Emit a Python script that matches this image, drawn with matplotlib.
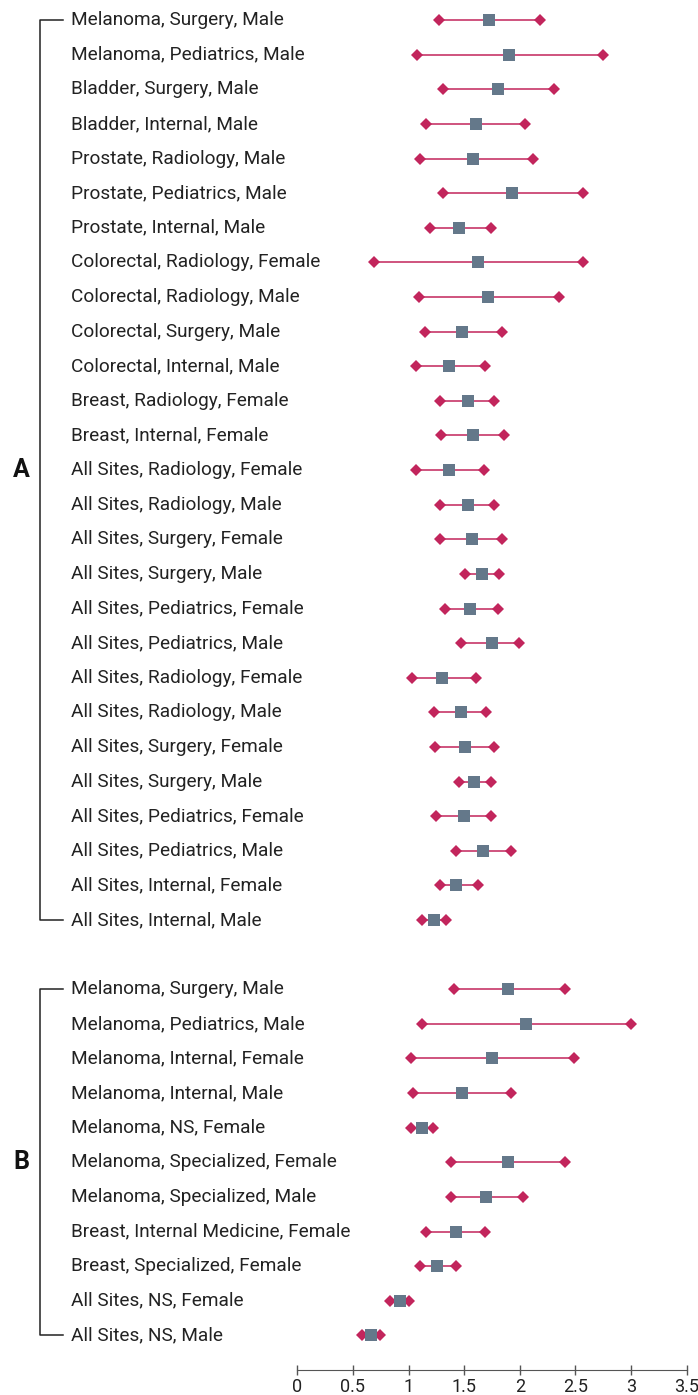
import numpy as np
import matplotlib.pyplot as plt
from matplotlib.transforms import blended_transform_factory

plt.rcParams['font.family'] = ['Roboto', 'DejaVu Sans']

labels_a = [
    "Melanoma, Surgery, Male", "Melanoma, Pediatrics, Male", "Bladder, Surgery, Male",
    "Bladder, Internal, Male", "Prostate, Radiology, Male", "Prostate, Pediatrics, Male",
    "Prostate, Internal, Male", "Colorectal, Radiology, Female", "Colorectal, Radiology, Male",
    "Colorectal, Surgery, Male", "Colorectal, Internal, Male", "Breast, Radiology, Female",
    "Breast, Internal, Female", "All Sites, Radiology, Female", "All Sites, Radiology, Male",
    "All Sites, Surgery, Female", "All Sites, Surgery, Male", "All Sites, Pediatrics, Female",
    "All Sites, Pediatrics, Male", "All Sites, Radiology, Female", "All Sites, Radiology, Male",
    "All Sites, Surgery, Female", "All Sites, Surgery, Male", "All Sites, Pediatrics, Female",
    "All Sites, Pediatrics, Male", "All Sites, Internal, Female", "All Sites, Internal, Male",
]
est_a = [1.72, 1.90, 1.80, 1.61, 1.58, 1.93, 1.45, 1.62, 1.71, 1.48, 1.36, 1.53, 1.58, 1.36,
         1.53, 1.57, 1.66, 1.55, 1.75, 1.30, 1.47, 1.51, 1.59, 1.50, 1.67, 1.43, 1.23]
lo_a = [1.27, 1.08, 1.31, 1.16, 1.10, 1.31, 1.19, 0.69, 1.09, 1.15, 1.07, 1.28, 1.29, 1.07,
        1.28, 1.28, 1.51, 1.33, 1.47, 1.03, 1.23, 1.24, 1.45, 1.25, 1.43, 1.28, 1.12]
hi_a = [2.18, 2.75, 2.31, 2.05, 2.12, 2.57, 1.74, 2.57, 2.35, 1.84, 1.69, 1.77, 1.86, 1.68,
        1.77, 1.84, 1.81, 1.80, 1.99, 1.61, 1.70, 1.77, 1.74, 1.74, 1.92, 1.62, 1.34]

labels_b = [
    "Melanoma, Surgery, Male", "Melanoma, Pediatrics, Male", "Melanoma, Internal, Female",
    "Melanoma, Internal, Male", "Melanoma, NS, Female", "Melanoma, Specialized, Female",
    "Melanoma, Specialized, Male", "Breast, Internal Medicine, Female",
    "Breast, Specialized, Female", "All Sites, NS, Female", "All Sites, NS, Male",
]
est_b = [1.89, 2.06, 1.75, 1.48, 1.12, 1.89, 1.70, 1.43, 1.26, 0.92, 0.66]
lo_b = [1.41, 1.12, 1.02, 1.04, 1.02, 1.38, 1.38, 1.16, 1.10, 0.83, 0.58]
hi_b = [2.41, 3.00, 2.49, 1.92, 1.22, 2.41, 2.03, 1.69, 1.43, 1.00, 0.74]

ticks = [0, 0.5, 1, 1.5, 2, 2.5, 3, 3.5]

W, H = 698, 1395
fig = plt.figure(figsize=(W / 100, H / 100), dpi=100)
x0, x1 = 297.3, 686.7
ax = fig.add_axes([x0 / W, 1 - 1370 / H, (x1 - x0) / W, 1370 / H])

red = '#c2255c'
grey = '#64788a'

ya = np.arange(len(labels_a))
yb = np.arange(len(labels_b)) + len(labels_a) + 1

for ys, lo, hi, est in [(ya, lo_a, hi_a, est_a), (yb, lo_b, hi_b, est_b)]:
    ax.hlines(ys, lo, hi, color=red, lw=1.3, alpha=0.85, zorder=1)
    ax.plot(lo, ys, 'D', color=red, ms=6.2, mew=0, clip_on=False, zorder=2)
    ax.plot(hi, ys, 'D', color=red, ms=6.2, mew=0, clip_on=False, zorder=2)
    ax.plot(est, ys, 's', color=grey, ms=8.8, mew=0, clip_on=False, zorder=3)

ax.set_xlim(0, 3.5)
ax.set_ylim(39, -0.58)
ax.set_xticks(ticks)
ax.set_xticklabels(['0', '0.5', '1', '1.5', '2', '2.5', '3', '3.5'])
ax.set_yticks([])
for s in ['top', 'right', 'left']:
    ax.spines[s].set_visible(False)
ax.spines['bottom'].set_color('#555555')
ax.tick_params(axis='x', direction='inout', length=7, width=1, color='#555555',
               labelsize=13, labelcolor='#222222', pad=2)

tr = blended_transform_factory(fig.transFigure, ax.transData)
for ys, labs in [(ya, labels_a), (yb, labels_b)]:
    for y, t in zip(ys, labs):
        ax.text(71 / W, y, t, transform=tr, ha='left', va='center',
                fontsize=13.7, color='#222222')
    # bracket
    bx, bx2 = 40 / W, 63 / W
    ax.plot([bx2, bx, bx, bx2], [ys[0], ys[0], ys[-1], ys[-1]], color='#222222',
            lw=1.1, transform=tr, clip_on=False)

ax.text(21 / W, (ya[0] + ya[-1]) / 2, 'A', transform=tr, ha='center', va='center',
        fontsize=18, fontweight='bold', color='#111111')
ax.text(21 / W, (yb[0] + yb[-1]) / 2, 'B', transform=tr, ha='center', va='center',
        fontsize=18, fontweight='bold', color='#111111')

fig.savefig('out.png', dpi=100, facecolor='w')
